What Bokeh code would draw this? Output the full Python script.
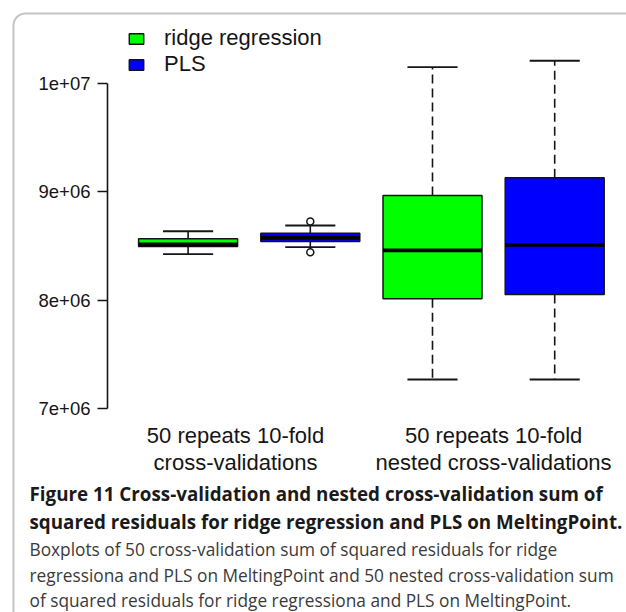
import math
from bokeh.plotting import figure
from bokeh.models import (Range1d, LinearAxis, FixedTicker, Label, Legend, LegendItem,
                          PolyAnnotation, ColumnDataSource, CustomJSTickFormatter)
from bokeh.embed import file_html
from bokeh.resources import INLINE

# ---------------- data ----------------
methods = ["ridge regression", "PLS", "ridge regression", "PLS"]
positions = [1, 2, 3, 4]
lower_whisker = [8.425e6, 8.489e6, 7.27e6, 7.27e6]
q1 = [8.495e6, 8.542e6, 8.014e6, 8.053e6]
median = [8.514e6, 8.576e6, 8.459e6, 8.511e6]
q3 = [8.566e6, 8.618e6, 8.965e6, 9.128e6]
upper_whisker = [8.636e6, 8.689e6, 10.148e6, 10.207e6]
colors = ["#00ff00", "#0000ff", "#00ff00", "#0000ff"]
outlier_pos = [2, 2]
outlier_val = [8.726e6, 8.443e6]

group_labels = ["50 repeats 10-fold\ncross-validations",
                "50 repeats 10-fold\nnested cross-validations"]
group_centers = [1.388, 3.5]

ytick_values = [7e6, 8e6, 9e6, 1e7]
ytick_labels = ["7e+06", "8e+06", "9e+06", "1e+07"]

caption_bold = ["Figure 11 Cross-validation and nested cross-validation sum of",
                "squared residuals for ridge regression and PLS on MeltingPoint."]
caption_text = ["Boxplots of 50 cross-validation sum of squared residuals for ridge",
                "regressiona and PLS on MeltingPoint and 50 nested cross-validation sum",
                "of squared residuals for ridge regressiona and PLS on MeltingPoint."]

# ---------------- figure ----------------
W, H = 626, 612
p = figure(width=W, height=H, output_backend="svg", toolbar_location=None,
           x_range=Range1d(-0.5352, 4.5876), y_range=Range1d(5.1231e6, 10.7621e6),
           x_axis_type=None, y_axis_type=None,
           min_border_left=0, min_border_right=0,
           min_border_top=0, min_border_bottom=0)
p.outline_line_color = None
p.background_fill_color = "white"
p.border_fill_color = "white"

SANS = "Liberation Sans"
INK = "#151515"

yaxis = LinearAxis(ticker=FixedTicker(ticks=ytick_values, minor_ticks=[]),
                   bounds=(ytick_values[0], ytick_values[-1]),
                   fixed_location=0.3404,
                   formatter=CustomJSTickFormatter(
                       args=dict(vals=ytick_values, labs=ytick_labels),
                       code="const i = vals.indexOf(tick); return i >= 0 ? labs[i] : '';"))
yaxis.axis_line_width = 1.6
yaxis.axis_line_color = INK
yaxis.major_tick_line_width = 1.6
yaxis.major_tick_line_color = INK
yaxis.major_tick_out = 10
yaxis.major_tick_in = 0
yaxis.minor_tick_out = 0
yaxis.minor_tick_in = 0
yaxis.major_label_standoff = 7
yaxis.major_label_text_font = SANS
yaxis.major_label_text_font_size = "18.5px"
yaxis.major_label_text_color = INK
p.add_layout(yaxis, "left")

src = ColumnDataSource(dict(pos=positions, q1=q1, q3=q3, med=median,
                            lw=lower_whisker, uw=upper_whisker,
                            color=colors, method=methods))

box_w = 0.81
cap_half = 0.205
# whiskers
p.segment(x0="pos", y0="q3", x1="pos", y1="uw", source=src,
          line_color=INK, line_width=1.6, line_dash="9 5")
p.segment(x0="pos", y0="q1", x1="pos", y1="lw", source=src,
          line_color=INK, line_width=1.6, line_dash="9 5")
# caps
cap_x0 = [x - cap_half for x in positions]
cap_x1 = [x + cap_half for x in positions]
p.segment(x0=cap_x0, x1=cap_x1, y0=upper_whisker, y1=upper_whisker,
          line_color=INK, line_width=1.8)
p.segment(x0=cap_x0, x1=cap_x1, y0=lower_whisker, y1=lower_whisker,
          line_color=INK, line_width=1.8)
# boxes
box_r = p.vbar(x="pos", width=box_w, top="q3", bottom="q1", source=src,
               fill_color="color", line_color=INK, line_width=1.5)
# medians
med_x0 = [x - box_w / 2 for x in positions]
med_x1 = [x + box_w / 2 for x in positions]
p.segment(x0=med_x0, x1=med_x1, y0=median, y1=median,
          line_color="black", line_width=3.8)
# outliers
p.scatter(x=outlier_pos, y=outlier_val, marker="circle", size=7,
          fill_color="white", line_color=INK, line_width=1.5)

# legend
legend = Legend(items=[LegendItem(label=methods[0], renderers=[box_r], index=0),
                       LegendItem(label=methods[1], renderers=[box_r], index=1)],
                location=(127, 535), margin=0, padding=0, spacing=0,
                glyph_width=18, glyph_height=13, label_standoff=19,
                label_height=20,
                label_text_font=SANS, label_text_font_size="22px",
                label_text_color=INK,
                border_line_color=None, background_fill_alpha=0)
p.add_layout(legend)

# group labels below boxes
for cx, txt in zip(group_centers, group_labels):
    l1, l2 = txt.split("\n")
    for ln, ycanvas in ((l1, 435), (l2, 461.5)):
        p.add_layout(Label(x=cx, x_units="data", y=H - ycanvas, y_units="screen",
                           text=ln, text_align="center", text_baseline="alphabetic",
                           text_font=SANS, text_font_size="22px", text_color=INK))

# caption
CAP_FONT = "Open Sans"
cap_x = 29
for ln, ycanvas in zip(caption_bold, (493, 521.5)):
    p.add_layout(Label(x=cap_x, x_units="screen", y=H - ycanvas, y_units="screen",
                       text=ln, text_align="left", text_baseline="alphabetic",
                       text_font=CAP_FONT, text_font_style="bold",
                       text_font_size="18.8px", text_color="#1a1a1a"))
for ln, ycanvas in zip(caption_text, (548.5, 574.5, 600)):
    p.add_layout(Label(x=cap_x, x_units="screen", y=H - ycanvas, y_units="screen",
                       text=ln, text_align="left", text_baseline="alphabetic",
                       text_font=CAP_FONT, text_font_size="17.3px", text_color="#3a3a3a"))

# rounded frame border: left and top edges with a rounded corner;
# the closing edges run outside the picture
R, E = 12, 13
arc = [(E + R - R * math.cos(math.radians(a)), E + R - R * math.sin(math.radians(a)))
       for a in range(0, 91, 5)]
bx = [E] + [pt[0] for pt in arc] + [W + 60, W + 60]
by = [H + 60] + [pt[1] for pt in arc] + [E, H + 60]
p.add_layout(PolyAnnotation(xs=bx, xs_units="screen",
                            ys=[H - v for v in by], ys_units="screen",
                            fill_alpha=0, line_color="#3a3a3a", line_width=2))

open("out.html", "w").write(file_html(p, INLINE))
